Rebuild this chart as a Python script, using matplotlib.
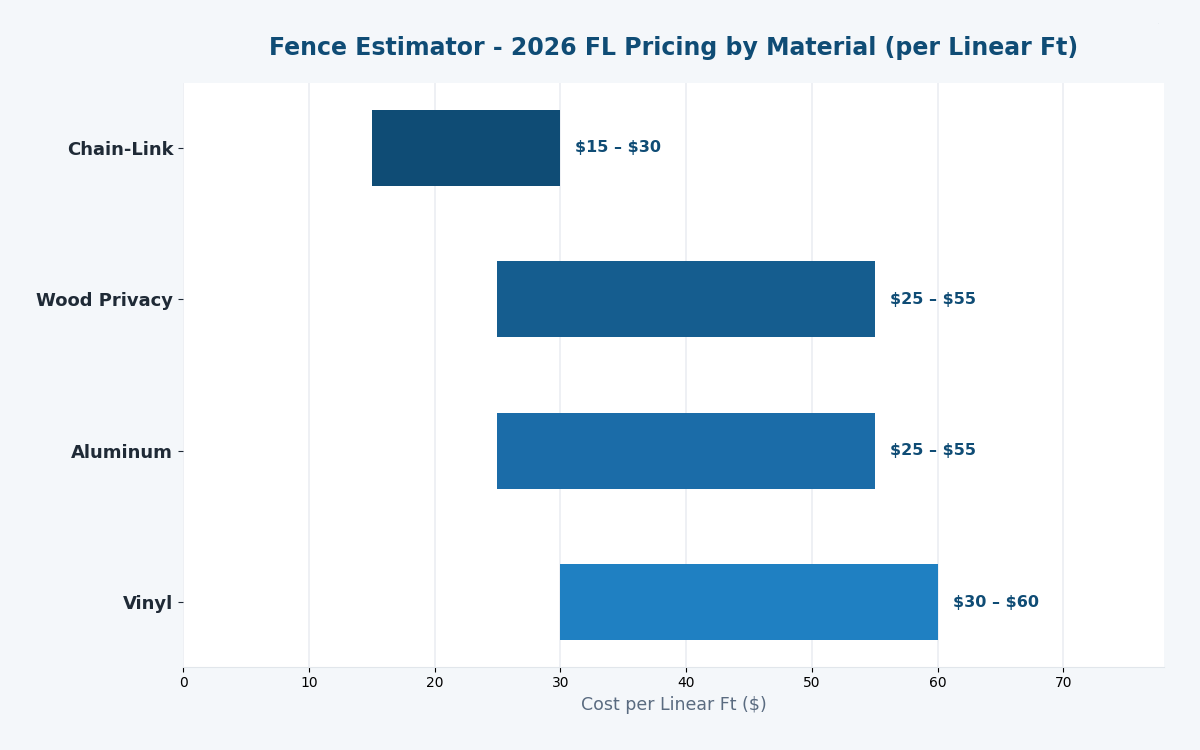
import matplotlib.pyplot as plt

materials = ["Chain-Link", "Wood Privacy", "Aluminum", "Vinyl"]
low = [15, 25, 25, 30]
high = [30, 55, 55, 60]
colors = ["#0f4c75", "#155d8f", "#1b6ca8", "#1f80c2"]

fig, ax = plt.subplots(figsize=(12, 7.5), dpi=100)
fig.patch.set_facecolor("#f4f7fa")
ax.set_facecolor("white")

widths = [h - l for l, h in zip(low, high)]
ax.barh(materials, widths, left=low, height=0.5, color=colors, zorder=3)
ax.invert_yaxis()

for i, (l, h) in enumerate(zip(low, high)):
    ax.text(h + 1.2, i, f"\\${l} \u2013 \\${h}", va="center", ha="left",
            fontsize=11.5, fontweight="bold", color="#0f4c75", zorder=4)

ax.set_xlim(0, max(high) * 1.3)
ax.grid(axis="x", color="#ebeef2", linewidth=1.2, zorder=0)
ax.set_axisbelow(True)
for s in ["top", "right", "left"]:
    ax.spines[s].set_visible(False)
ax.spines["bottom"].set_color("#e1e6eb")

ax.tick_params(axis="y", labelsize=13, colors="#1f2a36")
for t in ax.get_yticklabels():
    t.set_fontweight("bold")
ax.tick_params(axis="x", labelsize=10)

ax.set_xlabel("Cost per Linear Ft ($)", fontsize=12.5, color="#5a6b80")
fig.suptitle("Fence Estimator - 2026 FL Pricing by Material (per Linear Ft)",
             fontsize=17, fontweight="bold", color="#0f4c75", x=0.5617, y=0.952)
fig.text(0.965, 0.968, ".", fontsize=3, color="#c0c8d0")

fig.subplots_adjust(left=0.1525, right=0.97, top=0.889, bottom=0.111)
fig.savefig("out.png", dpi=100, facecolor=fig.get_facecolor())
